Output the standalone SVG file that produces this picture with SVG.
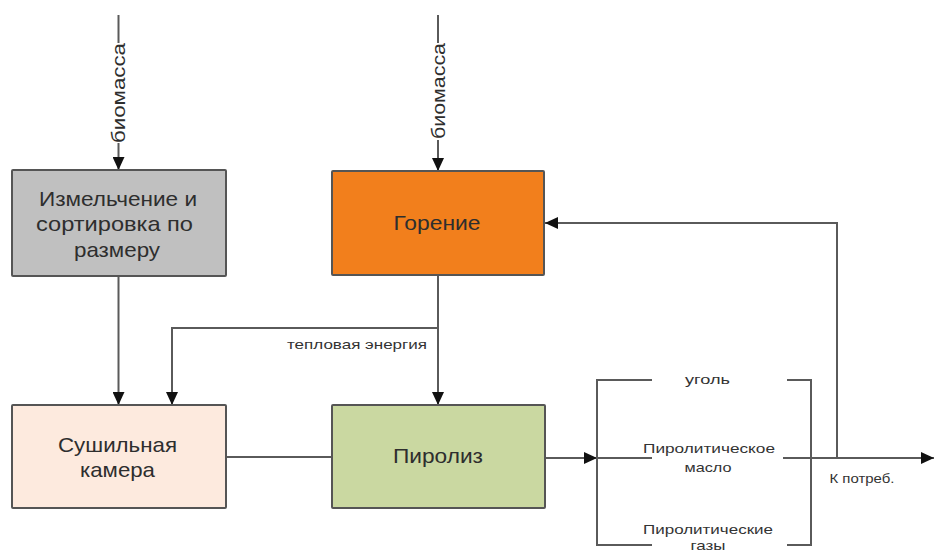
<svg xmlns="http://www.w3.org/2000/svg" width="934" height="552" viewBox="0 0 934 552">
<style>
.box{stroke:#555;stroke-width:2}
.t{font-family:"Liberation Sans",Arial,sans-serif;font-size:21px;fill:#2e2e2e;text-anchor:middle}
.s{font-family:"Liberation Sans",Arial,sans-serif;font-size:13px;fill:#333;text-anchor:middle}
.v{font-family:"Liberation Sans",Arial,sans-serif;font-size:18px;fill:#2e2e2e;text-anchor:middle}
.c{fill:none;stroke:#5a5a5a;stroke-width:2}
</style>
<defs>
<marker id="ah" markerUnits="userSpaceOnUse" markerWidth="14" markerHeight="12" refX="13" refY="6" orient="auto">
<path d="M0,0 L13,6 L0,12 z" fill="#111"/>
</marker>
</defs>
<rect width="934" height="552" fill="#fff"/>
<g id="connectors">
<path class="c" d="M118.5,15 V43"/>
<path class="c" d="M118.5,143 V170" marker-end="url(#ah)"/>
<path class="c" d="M438,15 V43"/>
<path class="c" d="M438,140 V171" marker-end="url(#ah)"/>
<path class="c" d="M118.5,276 V405" marker-end="url(#ah)"/>
<path class="c" d="M438,275 V405" marker-end="url(#ah)"/>
<path class="c" d="M438,328 H172 V405" marker-end="url(#ah)"/>
<path class="c" d="M226,457 H332"/>
<path class="c" d="M545,458 H597" marker-end="url(#ah)"/>
<path class="c" d="M652,380 H597 V545 H652"/>
<path class="c" d="M597,458 H652"/>
<path class="c" d="M787,380 H811 V545 H787"/>
<path class="c" d="M783,458 H934" marker-end="url(#ah)"/>
<path class="c" d="M837,458 V223 H545" marker-end="url(#ah)"/>
<text class="v" transform="translate(125,93) rotate(-90)" textLength="100" lengthAdjust="spacingAndGlyphs">биомасса</text>
<text class="v" transform="translate(445,91) rotate(-90)" textLength="96" lengthAdjust="spacingAndGlyphs">биомасса</text>
<text class="s" x="357" y="349" textLength="140" lengthAdjust="spacingAndGlyphs">тепловая энергия</text>
<text class="s" x="707.5" y="384" textLength="45" lengthAdjust="spacingAndGlyphs">уголь</text>
<text class="s" x="709" y="453" textLength="132" lengthAdjust="spacingAndGlyphs">Пиролитическое</text>
<text class="s" x="708" y="472" textLength="47" lengthAdjust="spacingAndGlyphs">масло</text>
<text class="s" x="708" y="534" textLength="130" lengthAdjust="spacingAndGlyphs">Пиролитические</text>
<text class="s" x="708" y="550" textLength="35" lengthAdjust="spacingAndGlyphs">газы</text>
<text class="s" x="862" y="483" textLength="65" lengthAdjust="spacingAndGlyphs">К потреб.</text>
</g>
<g id="n-shred">
<rect class="box" x="12" y="170" width="214" height="106" rx="1" fill="#c0c0c0"/>
<text class="t" x="118" y="206" textLength="158" lengthAdjust="spacingAndGlyphs">Измельчение и</text>
<text class="t" x="114.5" y="231" textLength="157" lengthAdjust="spacingAndGlyphs">сортировка по</text>
<text class="t" x="117" y="257" textLength="86" lengthAdjust="spacingAndGlyphs">размеру</text>
</g>
<g id="n-burn">
<rect class="box" x="332" y="171" width="212" height="104" rx="1" fill="#f27f1c"/>
<text class="t" x="437" y="230" textLength="87" lengthAdjust="spacingAndGlyphs" fill="#3a2512">Горение</text>
</g>
<g id="n-dry">
<rect class="box" x="12" y="405" width="214" height="103" rx="1" fill="#fdeade"/>
<text class="t" x="117.5" y="452" textLength="119" lengthAdjust="spacingAndGlyphs">Сушильная</text>
<text class="t" x="117.5" y="477" textLength="75" lengthAdjust="spacingAndGlyphs">камера</text>
</g>
<g id="n-pyro">
<rect class="box" x="332" y="405" width="213" height="103" rx="1" fill="#cad8a1"/>
<text class="t" x="438" y="463" textLength="90" lengthAdjust="spacingAndGlyphs" fill="#2e3320">Пиролиз</text>
</g>
</svg>
